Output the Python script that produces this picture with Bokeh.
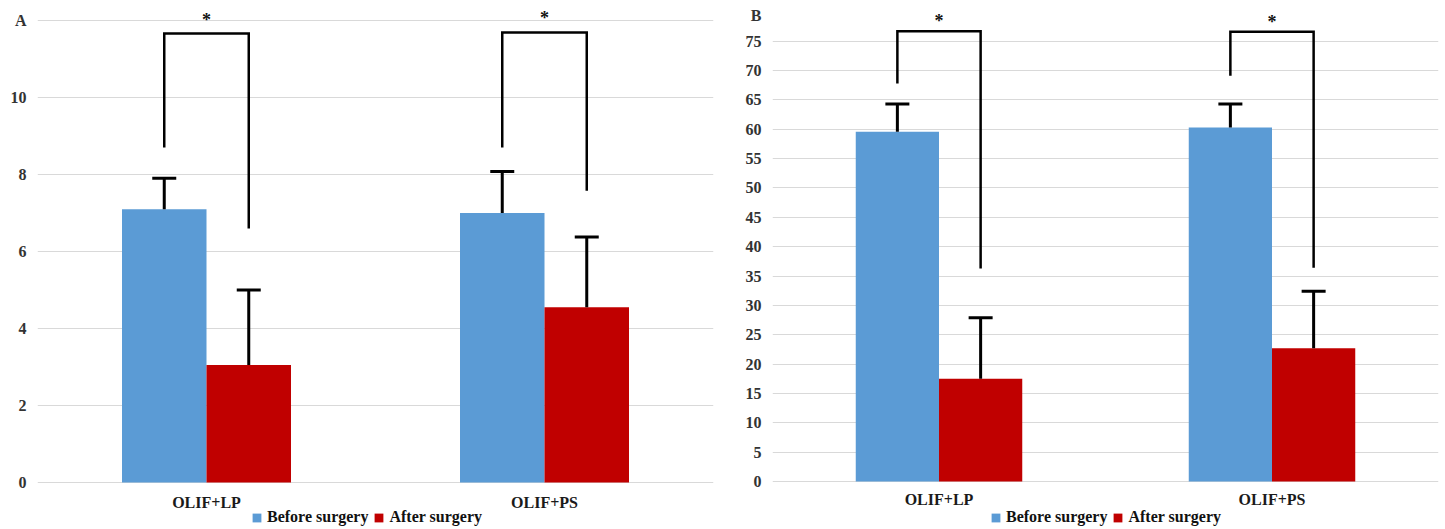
from bokeh.plotting import figure
from bokeh.layouts import row
from bokeh.models import FixedTicker, Range1d, Legend, LegendItem
from bokeh.core.properties import value
from bokeh.embed import file_html
from bokeh.resources import INLINE

categories = ["OLIF+LP", "OLIF+PS"]
series = ["Before surgery", "After surgery"]
sig_labels = ["*", "*"]

# Panel A values
a_before = [7.10, 7.00]
a_before_sd = [0.80, 1.08]
a_after = [3.05, 4.55]
a_after_sd = [1.95, 1.83]
a_bracket_start = [8.70, 8.70]
a_bracket_top = [11.66, 11.69]
a_bracket_end = [6.60, 7.58]
a_ticks = [0, 2, 4, 6, 8, 10]
a_grid = [0, 2, 4, 6, 8, 10, 12]

# Panel B values
b_before = [59.6, 60.3]
b_before_sd = [4.7, 4.0]
b_after = [17.5, 22.7]
b_after_sd = [10.4, 9.7]
b_bracket_start = [67.8, 69.1]
b_bracket_top = [76.7, 76.6]
b_bracket_end = [36.3, 36.4]
b_ticks = [0, 5, 10, 15, 20, 25, 30, 35, 40, 45, 50, 55, 60, 65, 70, 75]
b_grid = [0, 5, 10, 15, 20, 25, 30, 35, 40, 45, 50, 55, 60, 65, 70, 75]

BLUE = "#5B9BD5"
RED = "#C00000"
FONT = value("Liberation Serif")


def make_panel(before, before_sd, after, after_sd, br_start, br_top, br_end,
               ticks, grid, panel_label, label_pos, y_start, y_end, frame_w,
               b_left, b_right, star_off, cat_off, leg_loc):
    p = figure(frame_width=frame_w, frame_height=529, output_backend="svg",
               toolbar_location=None, x_axis_location=None,
               x_range=Range1d(0, 2), y_range=Range1d(y_start, y_end),
               min_border_left=b_left, min_border_right=b_right,
               min_border_top=0, min_border_bottom=0)
    p.outline_line_color = None
    centers = [i + 0.5 for i in range(len(categories))]
    xb = [c - 0.125 for c in centers]
    xa = [c + 0.125 for c in centers]

    rb = p.vbar(x=xb, top=before, width=0.25, fill_color=BLUE, line_color=None)
    ra = p.vbar(x=xa, top=after, width=0.25, fill_color=RED, line_color=None)

    # error bars (upper only)
    for xs, m, s in ((xb, before, before_sd), (xa, after, after_sd)):
        tops = [mm + ss for mm, ss in zip(m, s)]
        p.segment(x0=xs, y0=m, x1=xs, y1=tops, line_color="black", line_width=3)
        p.scatter(x=xs, y=tops, marker="dash", size=24, line_color="black", line_width=3)

    # significance brackets
    bxs = [[b, b, a, a] for b, a in zip(xb, xa)]
    bys = [[s, t, t, e] for s, t, e in zip(br_start, br_top, br_end)]
    p.multi_line(xs=bxs, ys=bys, line_color="black", line_width=2.5, line_join="miter")
    p.text(x=centers, y=br_top, text=sig_labels, text_align="center",
           text_baseline="alphabetic", y_offset=star_off, text_font=FONT,
           text_font_style="bold", text_font_size="18px", text_color="#111111")

    # category labels under the bars
    p.text(x=centers, y=[0] * len(centers), text=categories, text_align="center",
           text_baseline="middle", y_offset=cat_off, text_font=FONT,
           text_font_style="bold", text_font_size="16px", text_color="#1a1a1a")

    # y axis
    p.yaxis.ticker = FixedTicker(ticks=ticks + [label_pos])
    p.yaxis.major_label_overrides = {label_pos: panel_label}
    p.ygrid.ticker = FixedTicker(ticks=grid)
    p.ygrid.grid_line_color = "#d9d9d9"
    p.ygrid.grid_line_width = 1
    p.xgrid.grid_line_color = None
    p.yaxis.axis_line_color = None
    p.yaxis.major_tick_line_color = None
    p.yaxis.minor_tick_line_color = None
    p.yaxis.major_tick_out = 0
    p.yaxis.major_tick_in = 0
    p.yaxis.major_label_standoff = 11
    p.yaxis.major_label_text_font = "Liberation Serif"
    p.yaxis.major_label_text_font_style = "bold"
    p.yaxis.major_label_text_font_size = "16px"
    p.yaxis.major_label_text_color = "#333333"

    legend = Legend(items=[LegendItem(label=series[0], renderers=[rb]),
                           LegendItem(label=series[1], renderers=[ra])],
                    orientation="horizontal", location=leg_loc,
                    glyph_width=11, glyph_height=11, label_standoff=5, spacing=5,
                    padding=0, margin=0, border_line_color=None,
                    background_fill_alpha=0, label_height=14,
                    label_text_font="Liberation Serif", label_text_font_style="bold",
                    label_text_font_size="16px", label_text_color="#111111")
    p.add_layout(legend)
    return p


pa = make_panel(a_before, a_before_sd, a_after, a_after_sd,
                a_bracket_start, a_bracket_top, a_bracket_end,
                a_ticks, a_grid, "A", 12, -1.221, 12.52, 676, 37, 8, -14, 20, (214, 3))
pb = make_panel(b_before, b_before_sd, b_after, b_after_sd,
                b_bracket_start, b_bracket_top, b_bracket_end,
                b_ticks, b_grid, "B", 79.4, -8.18, 81.94, 666, 51, 5, -10, 18, (218, 3))

layout = row(pa, pb)
open("out.html", "w").write(file_html(layout, INLINE))
